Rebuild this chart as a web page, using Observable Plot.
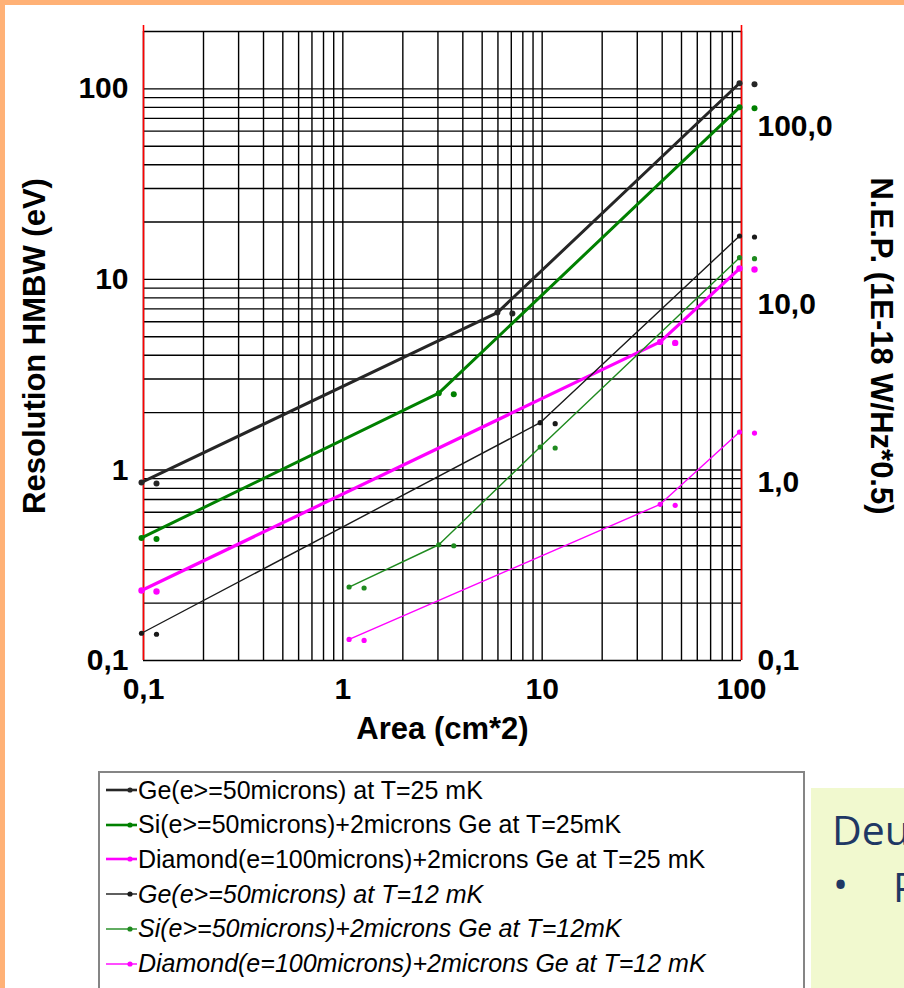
<!DOCTYPE html>
<html>
<head>
<meta charset="utf-8">
<script src="https://cdn.jsdelivr.net/npm/d3@7"></script>
<script src="https://cdn.jsdelivr.net/npm/@observablehq/plot@0.6"></script>
<style>
  html, body { margin: 0; padding: 0; background: #fff; }
  #page { position: relative; width: 904px; height: 988px; overflow: hidden; background: #fff;
          font-family: "Liberation Sans", Arial, sans-serif; color: #000; }
  #chart { position: absolute; left: 0; top: 0; }
  .frame-top { position: absolute; left: 0; top: 0; width: 904px; height: 5px; background: #FFB176; }
  .frame-left { position: absolute; left: 0; top: 0; width: 5px; height: 988px; background: #FFB176; }
  #legend { position: absolute; left: 98px; top: 771px; width: 707px; height: 240px;
            border: 2px solid #858585; box-sizing: border-box; background: #fff; }
  .row { position: absolute; left: 6px; height: 30px; display: flex; align-items: center;
         font-size: 25px; white-space: nowrap; }
  .row svg { flex: none; margin-right: 1px; }
  #note { position: absolute; left: 811px; top: 788px; width: 100px; height: 210px; background: #F1F9CF; }
</style>
</head>
<body>
<div id="page">
  <div id="chart"></div>
  <div id="legend"></div>
  <div id="note">
    <svg width="100" height="210" style="position:absolute;left:0;top:0;overflow:visible">
      <g font-family="'Open Sans','Noto Sans',sans-serif" fill="#1F3864">
        <text x="21" y="57" font-size="41">Deu</text>
        <text x="22" y="111" font-size="40">•</text>
        <text x="82" y="114" font-size="40">P</text>
        <text x="82" y="212" font-size="40">–</text>
      </g>
    </svg>
  </div>
  <div class="frame-top"></div>
  <div class="frame-left"></div>
</div>
<script>
// ---------- data ----------
const seriesNames = [
  "Ge(e>=50microns) at T=25 mK",
  "Si(e>=50microns)+2microns Ge at T=25mK",
  "Diamond(e=100microns)+2microns Ge at T=25 mK",
  "Ge(e>=50microns) at T=12 mK",
  "Si(e>=50microns)+2microns Ge at T=12mK",
  "Diamond(e=100microns)+2microns Ge at T=12 mK"
];
const areaGe25  = [0.1, 6.1, 100];
const resGe25   = [0.86, 6.7, 107];
const areaSi25  = [0.1, 3.1, 100];
const resSi25   = [0.44, 2.53, 80];
const areaDia25 = [0.1, 40, 100];
const resDia25  = [0.233, 4.7, 11.4];
const areaGe12  = [0.1, 10, 100];
const resGe12   = [0.139, 1.77, 16.9];
const areaSi12  = [1.1, 3.1, 10, 100];
const resSi12   = [0.243, 0.405, 1.32, 13.0];
const areaDia12 = [1.1, 40, 100];
const resDia12  = [0.129, 0.66, 1.58];

const xTickValues = [0.1, 1, 10, 100];
const xTickLabels = ["0,1", "1", "10", "100"];
const yTickValues = [0.1, 1, 10, 100];
const yTickLabels = ["0,1", "1", "10", "100"];
const rightTickValues = [0.1, 1, 10, 100];
const rightTickLabels = ["0,1", "1,0", "10,0", "100,0"];

const xDomain = [0.1, 100];
const yDomain = [0.1, 200];
const rightDomain = [0.1, 340];

const xTitle = "Area (cm*2)";
const yTitle = "Resolution HMBW (eV)";
const rightTitle = "N.E.P. (1E-18 W/Hz*0.5)";

// ---------- styles ----------
const colors = ["#262626", "#008000", "#FF00FF", "#1a1a1a", "#1f8a1f", "#FF00FF"];
const widths = [3, 3, 3.2, 1.4, 1.4, 1.4];
const radii  = [3, 3, 3.2, 2.6, 2.6, 2.6];
const italic = [false, false, false, true, true, true];

const areas = [areaGe25, areaSi25, areaDia25, areaGe12, areaSi12, areaDia12];
const ress  = [resGe25, resSi25, resDia25, resGe12, resSi12, resDia12];
const series = areas.map((a, s) => a.map((x, i) => ({x, y: ress[s][i], s})));

const xGrid = d3.scaleLog().domain(xDomain).ticks();
const yGrid = d3.scaleLog().domain(yDomain).ticks();

const xLab = new Map(xTickValues.map((v, i) => [v, xTickLabels[i]]));
const yLab = new Map(yTickValues.map((v, i) => [v, yTickLabels[i]]));
// right axis: its own log scale mapped onto the same pixel range as the left one
const yL = d3.scaleLog(yDomain, [0, 1]);
const yR = d3.scaleLog(rightDomain, [0, 1]);
const rightTicks = rightTickValues.map((v, i) => ({pos: yL.invert(yR(v)), label: rightTickLabels[i]}));

const font = {fontSize: 30, fontWeight: "bold", fill: "#000"};
const titleFont = {fontSize: 31, fontWeight: "bold", fill: "#000", textAnchor: "middle"};

const marks = [
  Plot.ruleX(xGrid, {stroke: "#000", strokeWidth: 1.4}),
  Plot.ruleY(yGrid, {stroke: "#000", strokeWidth: 1.4}),
  Plot.ruleX([xDomain[0], xDomain[1]], {stroke: "#FF0000", strokeWidth: 1.6, y1: yDomain[0], y2: 215}),
];
series.forEach((d, s) => {
  marks.push(Plot.line(d, {x: "x", y: "y", stroke: colors[s], strokeWidth: widths[s], curve: "linear", dx: -2}));
  marks.push(Plot.dot(d, {x: "x", y: "y", r: radii[s], fill: colors[s], dx: -2}));
  marks.push(Plot.dot(d, {x: "x", y: "y", r: radii[s], fill: colors[s], dx: 13, dy: 1}));
});
marks.push(
  Plot.axisX(xTickValues, {anchor: "bottom", tickSize: 0, tickPadding: 17, label: null,
    tickFormat: d => xLab.get(d), ...font}),
  Plot.axisY(yTickValues, {anchor: "left", tickSize: 0, tickPadding: 15, label: null,
    tickFormat: d => yLab.get(d), ...font}),
  Plot.text(rightTicks, {y: "pos", text: "label", frameAnchor: "right", dx: 16,
    textAnchor: "start", lineAnchor: "middle", ...font}),
  Plot.text([xTitle], {frameAnchor: "bottom", dy: 78, text: d => d, ...titleFont}),
  Plot.text([yTitle], {frameAnchor: "left", dx: -108, rotate: -90, text: d => d, ...titleFont}),
  Plot.text([rightTitle], {frameAnchor: "right", dx: 139, rotate: 90, text: d => d, ...titleFont})
);

const chart = Plot.plot({
  width: 904,
  height: 760,
  marginLeft: 143,
  marginRight: 163,
  marginTop: 31,
  marginBottom: 100,
  x: {type: "log", domain: xDomain},
  y: {type: "log", domain: yDomain},
  style: {background: "transparent", overflow: "visible", fontFamily: "'Liberation Sans', Arial, sans-serif", color: "#000"},
  marks
});
document.getElementById("chart").appendChild(chart);

// ---------- legend ----------
const legend = document.getElementById("legend");
seriesNames.forEach((name, s) => {
  const row = document.createElement("div");
  row.className = "row";
  row.style.top = (19 + s * 34.7 - 15 - 2) + "px";
  row.style.fontStyle = italic[s] ? "italic" : "normal";
  const svgNS = "http://www.w3.org/2000/svg";
  const svg = document.createElementNS(svgNS, "svg");
  svg.setAttribute("width", "31"); svg.setAttribute("height", "12");
  const ln = document.createElementNS(svgNS, "line");
  ln.setAttribute("x1", "0"); ln.setAttribute("x2", "31"); ln.setAttribute("y1", "6"); ln.setAttribute("y2", "6");
  ln.setAttribute("stroke", colors[s]); ln.setAttribute("stroke-width", widths[s] > 2 ? 2.6 : 1.4);
  const c = document.createElementNS(svgNS, "circle");
  c.setAttribute("cx", "24"); c.setAttribute("cy", "6"); c.setAttribute("r", "2.6"); c.setAttribute("fill", colors[s]);
  svg.appendChild(ln); svg.appendChild(c);
  const t = document.createElement("span");
  t.textContent = name;
  row.appendChild(svg); row.appendChild(t);
  legend.appendChild(row);
});
</script>
</body>
</html>
